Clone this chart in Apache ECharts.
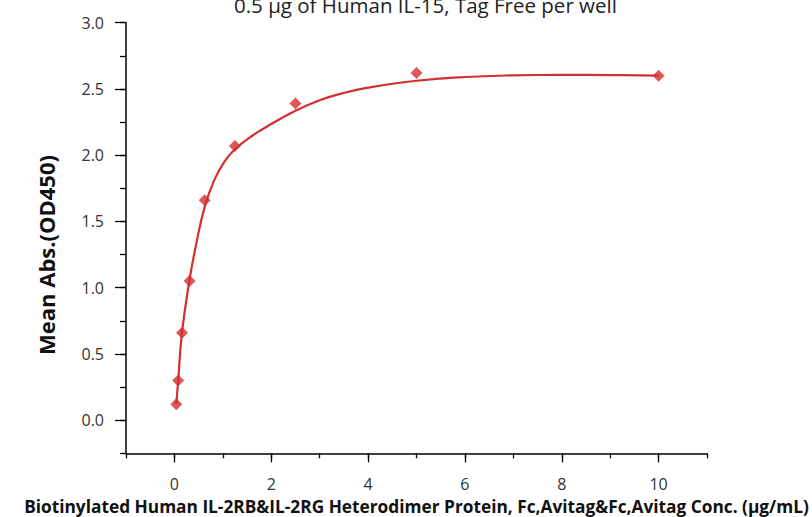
<!DOCTYPE html>
<html>
<head>
<meta charset="utf-8">
<script src="https://cdn.jsdelivr.net/npm/echarts@6/dist/echarts.min.js"></script>
<style>
  html,body{margin:0;padding:0;background:#fff;}
  #main{width:812px;height:517px;}
</style>
</head>
<body>
<div id="main"></div>
<script>
// measured points (conc. ug/mL, OD450)
var conc = [0.039, 0.078, 0.156, 0.3125, 0.625, 1.25, 2.5, 5, 10];
var od = [0.12, 0.30, 0.66, 1.05, 1.66, 2.07, 2.39, 2.62, 2.60];
// fitted curve
var fitX = [0.039, 0.078, 0.156, 0.3125, 0.45, 0.625, 0.82, 1.03, 1.25, 1.6, 2.0, 2.5, 3.0, 3.5, 4.0, 5.0, 6.0, 7.0, 8.0, 9.0, 10];
var fitY = [0.12, 0.30, 0.66, 1.06, 1.33, 1.61, 1.81, 1.95, 2.045, 2.145, 2.235, 2.335, 2.415, 2.47, 2.51, 2.562, 2.59, 2.603, 2.607, 2.605, 2.60];
// tick labels
var xLabels = ['0', '2', '4', '6', '8', '10'];
var yLabels = ['0.0', '0.5', '1.0', '1.5', '2.0', '2.5', '3.0'];

var red = '#d22f2f';
var font = 'Open Sans';

function pairs(xs, ys){
	var out = [];
	for (var i = 0; i < xs.length; i++) out.push([xs[i], ys[i]]);
	return out;
}

var chart = echarts.init(document.getElementById('main'), null, {renderer: 'svg'});
var option = {
	animation: false,
	title: {
		text: '0.5 \u03bcg of Human IL-15, Tag Free per well',
		left: 229,
		top: -11,
		textStyle: {fontFamily: font, fontSize: 20.5, fontWeight: 'normal', color: '#222'}
	},
	grid: [
		// full frame: minor ticks + axis lines
		{left: 126, right: 105, top: 22.7, bottom: 63.7, outerBoundsMode: 'none'},
		// major ticks + labels, 0..10 / 0..3
		{left: 174.4, right: 153.4, top: 22.7, bottom: 96.8, outerBoundsMode: 'none'}
	],
	xAxis: [{
		gridIndex: 0, type: 'value', min: -1, max: 11, interval: 1,
		axisLine: {onZero: false, lineStyle: {color: '#000', width: 1.5}},
		axisTick: {length: 5, lineStyle: {color: '#000', width: 1.3}},
		axisLabel: {show: false},
		splitLine: {show: false},
		name: 'Biotinylated Human IL-2RB&IL-2RG Heterodimer Protein, Fc,Avitag&Fc,Avitag Conc. (\u03bcg/mL)',
		nameLocation: 'middle', nameGap: 45,
		nameTextStyle: {fontFamily: font, fontSize: 17.3, fontWeight: 'bold', color: '#111'}
	}, {
		gridIndex: 1, type: 'value', min: 0, max: 10, interval: 2, offset: 33.1,
		axisLine: {show: false, onZero: false},
		axisTick: {length: 9, lineStyle: {color: '#000', width: 1.3}},
		axisLabel: {
			margin: 23, fontFamily: font, fontSize: 16, color: '#333',
			formatter: function(v){ return xLabels[v / 2]; }
		},
		splitLine: {show: false}
	}],
	yAxis: [{
		gridIndex: 0, type: 'value', min: -0.25, max: 3, interval: 0.25,
		axisLine: {onZero: false, lineStyle: {color: '#000', width: 1.5}},
		axisTick: {length: 6, lineStyle: {color: '#000', width: 1.3}},
		axisLabel: {show: false},
		splitLine: {show: false}
	}, {
		gridIndex: 1, type: 'value', min: 0, max: 3, interval: 0.5, offset: 48.4,
		axisLine: {show: false, onZero: false},
		axisTick: {length: 11, lineStyle: {color: '#000', width: 1.3}},
		axisLabel: {
			margin: 22, fontFamily: font, fontSize: 16, color: '#333',
			formatter: function(v){ return yLabels[Math.round(v * 2)]; }
		},
		splitLine: {show: false}
	}],
	graphic: [{
		type: 'text',
		x: 46, y: 255,
		rotation: Math.PI / 2,
		style: {
			text: 'Mean Abs.(OD450)',
			fontFamily: font, fontSize: 22, fontWeight: 'bold', fill: '#111',
			align: 'center', verticalAlign: 'middle'
		}
	}],
	series: [{
		name: 'fit', type: 'line', xAxisIndex: 0, yAxisIndex: 0,
		data: pairs(fitX, fitY),
		smooth: 0.45, showSymbol: false, symbol: 'none',
		lineStyle: {color: red, width: 2.2}
	}, {
		name: 'data', type: 'scatter', xAxisIndex: 0, yAxisIndex: 0,
		data: pairs(conc, od),
		symbol: 'diamond', symbolSize: 12,
		itemStyle: {color: red}
	}]
};
chart.setOption(option);
</script>
</body>
</html>
